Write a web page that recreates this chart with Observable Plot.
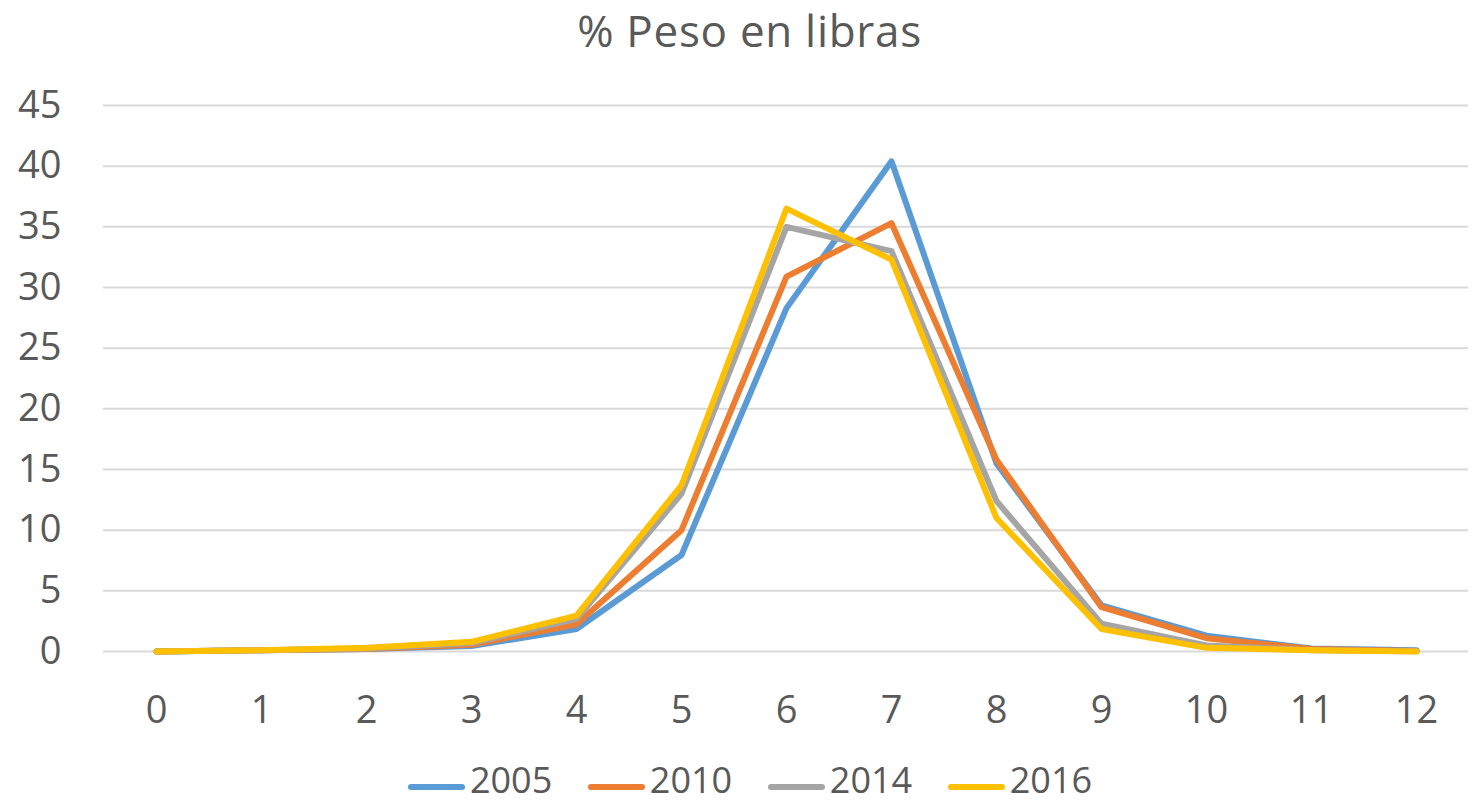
<!DOCTYPE html>
<html>
<head>
<meta charset="utf-8">
<script src="https://cdn.jsdelivr.net/npm/d3@7"></script>
<script src="https://cdn.jsdelivr.net/npm/@observablehq/plot@0.6"></script>
<style>
  html, body { margin: 0; padding: 0; background: #fff; }
  body { width: 1473px; font-family: "Open Sans", sans-serif; color: #595959; }
  #title { height: 70px; box-sizing: border-box; padding-top: 0; padding-left: 26px; text-align: center; font-size: 44px; line-height: normal; letter-spacing: 0.7px; white-space: nowrap; }
  #legend { height: 44px; box-sizing: border-box; padding-top: 0; padding-left: 27px; display: flex; justify-content: center; align-items: flex-start; }
  .item { display: flex; align-items: flex-start; margin: 0 17.8px; }
  .sw { width: 57px; height: 6px; border-radius: 3px; margin-right: 5px; margin-top: 23.5px; }
  .tx { display: block; font-size: 36px; line-height: normal; margin-top: -5.5px; white-space: nowrap; }
</style>
</head>
<body>
<div id="title">% Peso en libras</div>
<div id="chart"></div>
<div id="legend"></div>
<script>
const categories = [0, 1, 2, 3, 4, 5, 6, 7, 8, 9, 10, 11, 12];
const years = ["2005", "2010", "2014", "2016"];
const colors = ["#5B9BD5", "#ED7D31", "#A5A5A5", "#FFC000"];
const s2005 = [0, 0.1, 0.2, 0.45, 1.85, 7.95, 28.3, 40.4, 15.5, 3.8, 1.3, 0.25, 0.1];
const s2010 = [0, 0.1, 0.2, 0.55, 2.25, 10.0, 30.9, 35.3, 15.8, 3.65, 1.1, 0.2, 0.05];
const s2014 = [0, 0.1, 0.25, 0.7, 2.7, 13.0, 35.0, 33.0, 12.4, 2.3, 0.5, 0.1, 0.02];
const s2016 = [0, 0.1, 0.3, 0.8, 2.95, 13.7, 36.5, 32.3, 11.0, 1.85, 0.3, 0.1, 0];
const yTicks = [0, 5, 10, 15, 20, 25, 30, 35, 40, 45];

const seriesValues = [s2005, s2010, s2014, s2016];
const rows = [];
years.forEach((yr, i) => {
  categories.forEach((c, j) => rows.push({series: yr, x: c, y: seriesValues[i][j]}));
});

const chart = Plot.plot({
  width: 1473,
  height: 690,
  marginTop: 35,
  marginBottom: 109,
  marginLeft: 103,
  marginRight: 5,
  style: {fontFamily: "Open Sans, sans-serif", fontSize: "38px", color: "#595959", background: "#fff"},
  x: {type: "point", domain: categories, padding: 0.5, align: 0.5, label: null},
  y: {domain: [0, 45], label: null},
  color: {domain: years, range: colors},
  marks: [
    Plot.gridY(yTicks, {stroke: "#d9d9d9", strokeOpacity: 1, strokeWidth: 2}),
    Plot.axisY(yTicks, {tickSize: 0, tickPadding: 42, fontSize: 38, label: null}),
    Plot.axisX(categories, {tickSize: 0, tickPadding: 45, fontSize: 38, label: null}),
    Plot.line(rows, {x: "x", y: "y", z: "series", stroke: "series", strokeWidth: 6, strokeLinejoin: "round", strokeLinecap: "round"})
  ]
});
document.getElementById("chart").appendChild(chart);

const legend = document.getElementById("legend");
years.forEach((yr, i) => {
  const it = document.createElement("div");
  it.className = "item";
  const sw = document.createElement("div");
  sw.className = "sw";
  sw.style.background = colors[i];
  const tx = document.createElement("div");
  tx.className = "tx";
  tx.textContent = yr;
  it.appendChild(sw);
  it.appendChild(tx);
  legend.appendChild(it);
});
</script>
</body>
</html>
